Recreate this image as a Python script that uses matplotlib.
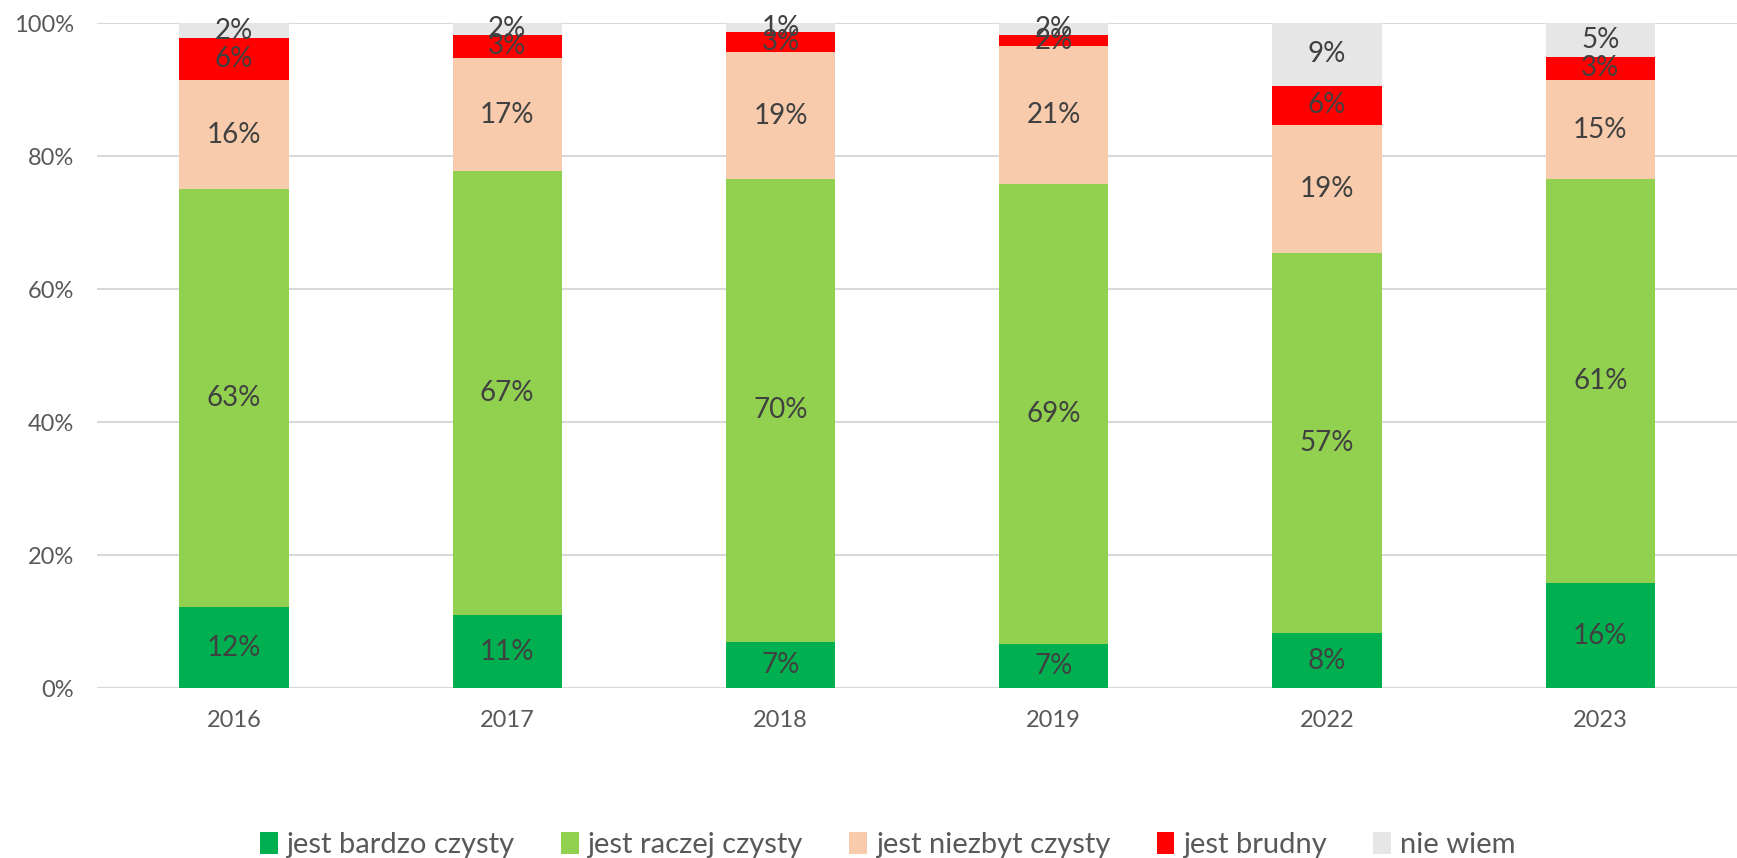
import numpy as np
import matplotlib
matplotlib.use("Agg")
from matplotlib import pyplot as plt
from matplotlib.ticker import PercentFormatter

plt.rcParams['font.family'] = ['Lato', 'DejaVu Sans']

years = ['2016', '2017', '2018', '2019', '2022', '2023']
series = ['jest bardzo czysty', 'jest raczej czysty', 'jest niezbyt czysty', 'jest brudny', 'nie wiem']

bardzo_czysty = [12.2, 11.0, 7.0, 6.7, 8.3, 15.8]
raczej_czysty = [62.8, 66.7, 69.6, 69.1, 57.2, 60.7]
niezbyt_czysty = [16.5, 17.1, 19.0, 20.7, 19.2, 15.0]
brudny = [6.2, 3.4, 3.0, 1.7, 5.9, 3.4]
nie_wiem = [2.3, 1.8, 1.4, 1.8, 9.4, 5.1]

colors = ['#00B050', '#92D050', '#F8CBAD', '#FF0000', '#E7E6E6']

fig = plt.figure(figsize=(17.37, 8.58), dpi=100)
ax = fig.add_axes([0.056, 0.198, 0.944, 0.775])

x = np.arange(len(years))
bottom = np.zeros(len(years))
for name, vals, c in zip(series, [bardzo_czysty, raczej_czysty, niezbyt_czysty, brudny, nie_wiem], colors):
    bars = ax.bar(x, vals, 0.4, bottom=bottom, color=c, label=name, zorder=2)
    ax.bar_label(bars, labels=[f"{v:.0f}%" for v in vals], label_type='center',
                 fontsize=20, color='#404040')
    bottom += np.array(vals)

ax.set_xlim(-0.5, len(years) - 0.5)
ax.set_ylim(0, 100)
ax.set_yticks(np.arange(0, 101, 20))
ax.yaxis.set_major_formatter(PercentFormatter(decimals=0))
ax.set_xticks(x)
ax.set_xticklabels(years)
ax.tick_params(axis='both', length=0, labelsize=17, colors='#595959')
ax.tick_params(axis='x', pad=16)
ax.tick_params(axis='y', pad=17)
ax.grid(axis='y', color='#D9D9D9', linewidth=1.5, zorder=0)
for s in ax.spines.values():
    s.set_visible(False)

fig.legend(loc='center', bbox_to_anchor=(0.511, 0.015), ncol=5, frameon=False,
           fontsize=21, labelcolor='#595959', handlelength=0.6, handleheight=0.75,
           handletextpad=0.3, columnspacing=1.6)

fig.savefig('out.png', dpi=100)
